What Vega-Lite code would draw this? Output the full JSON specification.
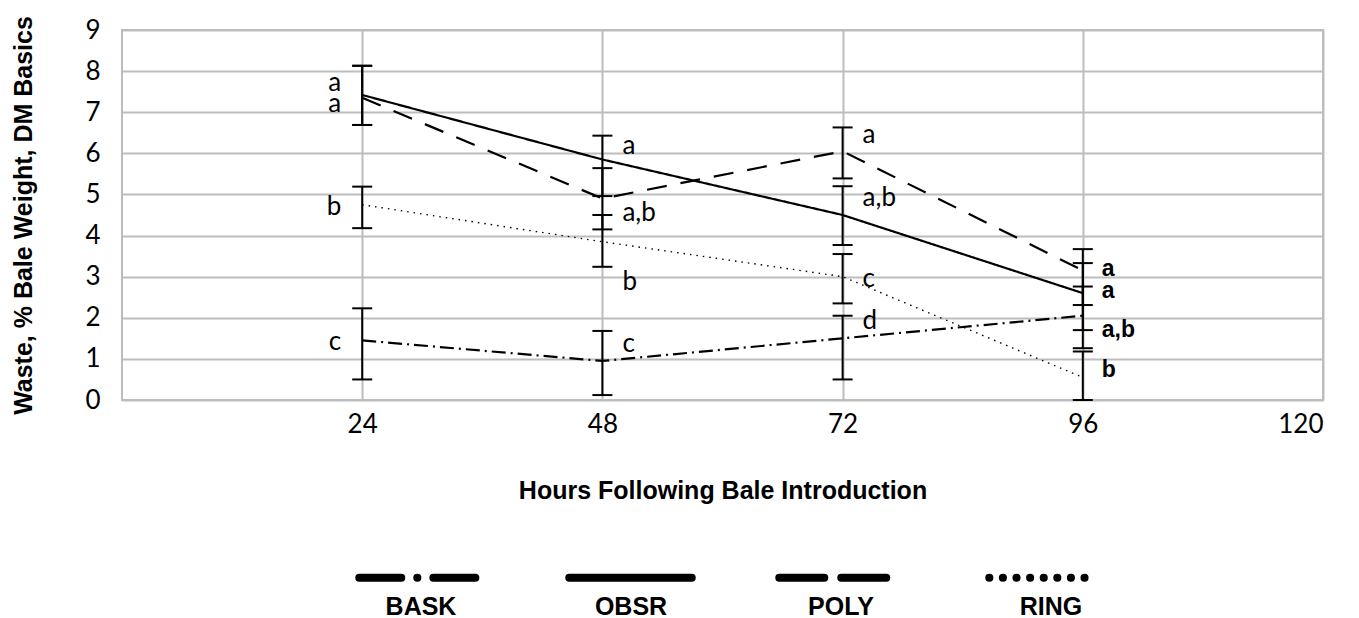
{
  "$schema": "https://vega.github.io/schema/vega-lite/v6.json",
  "width": 1201,
  "height": 370,
  "autosize": {"type": "none"},
  "padding": {"left": 122, "top": 30, "right": 36, "bottom": 218},
  "background": "white",
  "config": {
    "view": {"stroke": "#bdbdbd", "strokeWidth": 2},
    "axis": {"gridColor": "#bdbdbd", "gridWidth": 2, "gridOpacity": 1, "domain": false, "ticks": false,
             "labelFont": "Lato", "labelFontSize": 26, "labelColor": "black",
             "titleFont": "Liberation Sans", "titleFontWeight": "bold", "titleFontSize": 25, "titleColor": "black"}
  },
  "datasets": {
    "series": [
      {"series": "OBSR", "hour": 24, "value": 7.42, "lo": 6.69, "hi": 8.13},
      {"series": "OBSR", "hour": 48, "value": 5.85, "lo": 4.96, "hi": 6.43},
      {"series": "OBSR", "hour": 72, "value": 4.5, "lo": 3.77, "hi": 5.2},
      {"series": "OBSR", "hour": 96, "value": 2.6, "lo": 1.7, "hi": 3.33},
      {"series": "POLY", "hour": 24, "value": 7.35, "lo": 6.69, "hi": 8.13},
      {"series": "POLY", "hour": 48, "value": 4.9, "lo": 4.15, "hi": 5.64},
      {"series": "POLY", "hour": 72, "value": 6.05, "lo": 5.39, "hi": 6.63},
      {"series": "POLY", "hour": 96, "value": 3.15, "lo": 2.31, "hi": 3.67},
      {"series": "RING", "hour": 24, "value": 4.75, "lo": 4.18, "hi": 5.19},
      {"series": "RING", "hour": 48, "value": 3.85, "lo": 3.24, "hi": 4.5},
      {"series": "RING", "hour": 72, "value": 3.0, "lo": 2.35, "hi": 3.55},
      {"series": "RING", "hour": 96, "value": 0.55, "lo": 0, "hi": 1.18},
      {"series": "BASK", "hour": 24, "value": 1.45, "lo": 0.5, "hi": 2.23},
      {"series": "BASK", "hour": 48, "value": 0.95, "lo": 0.12, "hi": 1.68},
      {"series": "BASK", "hour": 72, "value": 1.5, "lo": 0.5, "hi": 2.05},
      {"series": "BASK", "hour": 96, "value": 2.05, "lo": 1.26, "hi": 2.76}
    ],
    "labels": [
      {"hour": 24, "y": 7.71, "lbl": "a"},
      {"hour": 24, "y": 7.2, "lbl": "a"},
      {"hour": 24, "y": 4.7, "lbl": "b"},
      {"hour": 24, "y": 1.41, "lbl": "c"},
      {"hour": 48, "y": 6.18, "lbl": "a"},
      {"hour": 48, "y": 4.55, "lbl": "a,b"},
      {"hour": 48, "y": 2.87, "lbl": "b"},
      {"hour": 48, "y": 1.36, "lbl": "c"},
      {"hour": 72, "y": 6.45, "lbl": "a"},
      {"hour": 72, "y": 4.91, "lbl": "a,b"},
      {"hour": 72, "y": 2.94, "lbl": "c"},
      {"hour": 72, "y": 1.92, "lbl": "d"},
      {"hour": 96, "y": 3.19, "lbl": "a"},
      {"hour": 96, "y": 2.65, "lbl": "a"},
      {"hour": 96, "y": 1.7, "lbl": "a,b"},
      {"hour": 96, "y": 0.73, "lbl": "b"}
    ]
  },
  "resolve": {"scale": {"strokeDash": "independent"}, "legend": {"strokeDash": "independent"}},
  "layer": [
    {
      "data": {"name": "series"},
      "transform": [{"filter": "datum.series != 'RING'"}],
      "mark": {"type": "line", "color": "black", "strokeWidth": 2.2, "strokeCap": "butt"},
      "encoding": {
        "x": {"field": "hour", "type": "quantitative", "scale": {"domain": [0, 120], "nice": false},
              "axis": {"values": [24, 48, 72, 96, 120], "labelPadding": 11, "titlePadding": 41},
              "title": "Hours Following Bale Introduction"},
        "y": {"field": "value", "type": "quantitative", "scale": {"domain": [0, 9], "nice": false},
              "axis": {"values": [0, 1, 2, 3, 4, 5, 6, 7, 8, 9], "labelPadding": 22, "titlePadding": 48},
              "title": "Waste, % Bale Weight, DM Basics"},
        "strokeDash": {
          "field": "series", "type": "nominal",
          "scale": {"domain": ["BASK", "OBSR", "POLY", "RING"], "range": [[14, 5, 2, 5], [1, 0], [20, 14], [1.5, 5]]},
          "legend": null
        }
      }
    },
    {
      "data": {"name": "series"},
      "transform": [{"filter": "datum.series == 'RING'"}],
      "mark": {"type": "line", "color": "black", "strokeWidth": 1.4, "strokeCap": "butt", "strokeDash": [1.5, 5]},
      "encoding": {
        "x": {"field": "hour", "type": "quantitative"},
        "y": {"field": "value", "type": "quantitative"}
      }
    },
    {
      "data": {"name": "series"},
      "transform": [{"filter": "false"}],
      "mark": {"type": "line", "color": "black", "strokeWidth": 8, "strokeCap": "round"},
      "encoding": {
        "x": {"field": "hour", "type": "quantitative"},
        "y": {"field": "value", "type": "quantitative"},
        "strokeDash": {
          "field": "series", "type": "nominal",
          "scale": {"domain": ["BASK", "OBSR", "POLY", "RING"], "range": [[42, 16, 0.1, 16], [1, 0], [45, 17], [0.1, 13.5, 0.1, 13.5, 0.1, 13.5, 0.1, 13.5, 0.1, 13.5, 0.1, 13.5, 0.1, 13.5, 0.1, 40]]},
          "legend": {
            "orient": "none", "legendX": 233, "legendY": 482, "direction": "horizontal", "title": null,
            "symbolType": "stroke", "symbolSize": 15000, "symbolStrokeWidth": 8, "symbolStrokeColor": "black",
            "labelFont": "Liberation Sans", "labelFontWeight": "bold", "labelFontSize": 25, "labelColor": "black",
            "labelAlign": "center", "labelOffset": -65, "columnPadding": 55,
            "encode": {
              "symbols": {"update": {"strokeCap": {"value": "round"}, "strokeWidth": {"value": 8}}},
              "labels": {"update": {"dy": {"value": 29}}}
            }
          }
        }
      }
    },
    {
      "data": {"name": "series"},
      "mark": {"type": "rule", "color": "black", "strokeWidth": 2},
      "encoding": {
        "x": {"field": "hour", "type": "quantitative"},
        "y": {"field": "lo", "type": "quantitative"},
        "y2": {"field": "hi"}
      }
    },
    {
      "data": {"name": "series"},
      "mark": {"type": "tick", "orient": "horizontal", "size": 20, "thickness": 2, "color": "black", "opacity": 1},
      "encoding": {
        "x": {"field": "hour", "type": "quantitative"},
        "y": {"field": "lo", "type": "quantitative"}
      }
    },
    {
      "data": {"name": "series"},
      "mark": {"type": "tick", "orient": "horizontal", "size": 20, "thickness": 2, "color": "black", "opacity": 1},
      "encoding": {
        "x": {"field": "hour", "type": "quantitative"},
        "y": {"field": "hi", "type": "quantitative"}
      }
    },
    {
      "data": {"name": "labels"},
      "transform": [{"filter": "datum.hour == 24"}],
      "mark": {"type": "text", "align": "right", "baseline": "middle", "dx": -21, "font": "Lato", "fontSize": 26, "color": "black"},
      "encoding": {
        "x": {"field": "hour", "type": "quantitative"},
        "y": {"field": "y", "type": "quantitative"},
        "text": {"field": "lbl"}
      }
    },
    {
      "data": {"name": "labels"},
      "transform": [{"filter": "datum.hour == 48 || datum.hour == 72"}],
      "mark": {"type": "text", "align": "left", "baseline": "middle", "dx": 20, "font": "Lato", "fontSize": 26, "color": "black"},
      "encoding": {
        "x": {"field": "hour", "type": "quantitative"},
        "y": {"field": "y", "type": "quantitative"},
        "text": {"field": "lbl"}
      }
    },
    {
      "data": {"name": "labels"},
      "transform": [{"filter": "datum.hour == 96"}],
      "mark": {"type": "text", "align": "left", "baseline": "middle", "dx": 19, "font": "Liberation Sans", "fontWeight": "bold", "fontSize": 23, "color": "black"},
      "encoding": {
        "x": {"field": "hour", "type": "quantitative"},
        "y": {"field": "y", "type": "quantitative"},
        "text": {"field": "lbl"}
      }
    }
  ]
}
